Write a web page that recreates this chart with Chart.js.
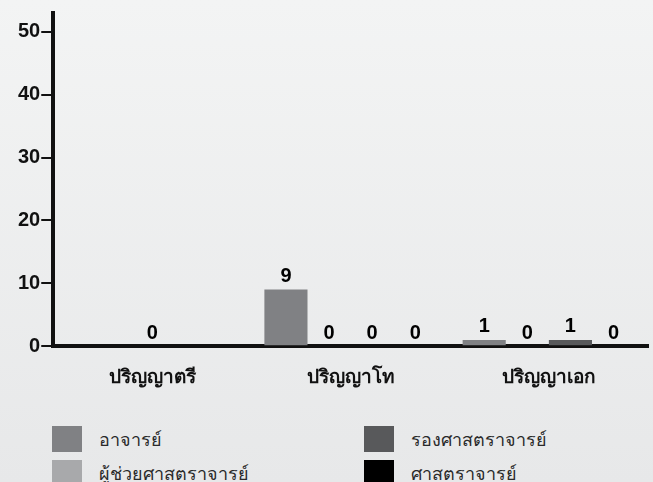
<!DOCTYPE html>
<html>
<head>
<meta charset="utf-8">
<script src="https://cdn.jsdelivr.net/npm/chart.js@4.4.1/dist/chart.umd.min.js"></script>
<style>
    html, body { margin: 0; padding: 0; }
    body {
        width: 653px; height: 482px; overflow: hidden; position: relative;
        background: linear-gradient(180deg, #f3f4f4 0%, #e7e8e9 100%);
        font-family: 'Liberation Sans', 'DejaVu Sans', sans-serif;
    }
    #wrap { position: absolute; left: 0; top: 0; width: 653px; height: 411px; }
    #legend {
        position: absolute; left: 52px; top: 422px; width: 600px;
        display: grid; grid-template-columns: 312px 280px; grid-template-rows: 34px 34px;
        grid-auto-flow: column;
    }
    .item { display: flex; align-items: center; font-size: 18px; color: #2a2a2a; }
    .box { width: 30px; height: 26px; margin-right: 17px; }
</style>
</head>
<body>
<div id="wrap"><canvas id="myChart"></canvas></div>
<div id="legend"></div>
<script>
var categories = ['ปริญญาตรี', 'ปริญญาโท', 'ปริญญาเอก'];
var seriesNames = ['อาจารย์', 'ผู้ช่วยศาสตราจารย์', 'รองศาสตราจารย์', 'ศาสตราจารย์'];
var lecturer = [0, 9, 1];
var assistantProf = [null, 0, 0];
var associateProf = [null, 0, 1];
var professor = [null, 0, 0];
var yTicks = [0, 10, 20, 30, 40, 50];
var colors = ['#808184', '#a8a9ab', '#58595b', '#000000'];

var fontName = "'Liberation Sans', 'DejaVu Sans', sans-serif";

var valueLabels = {
    id: 'valueLabels',
    afterDatasetsDraw: function(chart) {
        var ctx = chart.ctx;
        ctx.save();
        ctx.font = 'bold 20px ' + fontName;
        ctx.fillStyle = '#000';
        ctx.textAlign = 'center';
        ctx.textBaseline = 'bottom';
        chart.data.datasets.forEach(function(ds, i) {
            var meta = chart.getDatasetMeta(i);
            meta.data.forEach(function(bar, j) {
                if (ds.data[j] === null) return;
                ctx.fillText(ds.data[j], bar.x, bar.y - 3);
            });
        });
        ctx.restore();
    }
};

window.onload = function() {
    var seriesData = [lecturer, assistantProf, associateProf, professor];
    var ctx = document.getElementById('myChart').getContext('2d');
    var chart = new Chart(ctx, {
        type: 'bar',
        data: {
            labels: categories,
            datasets: seriesNames.map(function(name, i) {
                return {
                    label: name,
                    data: seriesData[i],
                    backgroundColor: colors[i],
                    borderWidth: 0,
                    skipNull: true,
                    categoryPercentage: 0.87,
                    barPercentage: 1.0
                };
            })
        },
        options: {
            responsive: true,
            maintainAspectRatio: false,
            animation: false,
            layout: { padding: { left: 17, right: 5, top: 12, bottom: 2 } },
            plugins: { legend: { display: false }, tooltip: { enabled: false } },
            scales: {
                x: {
                    grid: { display: false, drawTicks: false },
                    border: { display: true, color: '#111', width: 4 },
                    ticks: { color: '#111', padding: 20, font: { family: fontName, size: 19, weight: 'bold' } }
                },
                y: {
                    min: 0,
                    max: 53,
                    afterBuildTicks: function(axis) {
                        axis.ticks = yTicks.map(function(v) { return { value: v }; });
                    },
                    grid: { drawOnChartArea: false, drawTicks: true, tickLength: 12, color: '#111', lineWidth: 2 },
                    border: { display: true, color: '#111', width: 4 },
                    ticks: { color: '#111', padding: 1, font: { family: fontName, size: 20, weight: 'bold' } }
                }
            }
        },
        plugins: [valueLabels]
    });

    var legend = document.getElementById('legend');
    chart.data.datasets.forEach(function(ds) {
        var item = document.createElement('div');
        item.className = 'item';
        item.innerHTML = '<span class="box" style="background:' + ds.backgroundColor + '"></span><span>' + ds.label + '</span>';
        legend.appendChild(item);
    });
};
</script>
</body>
</html>
